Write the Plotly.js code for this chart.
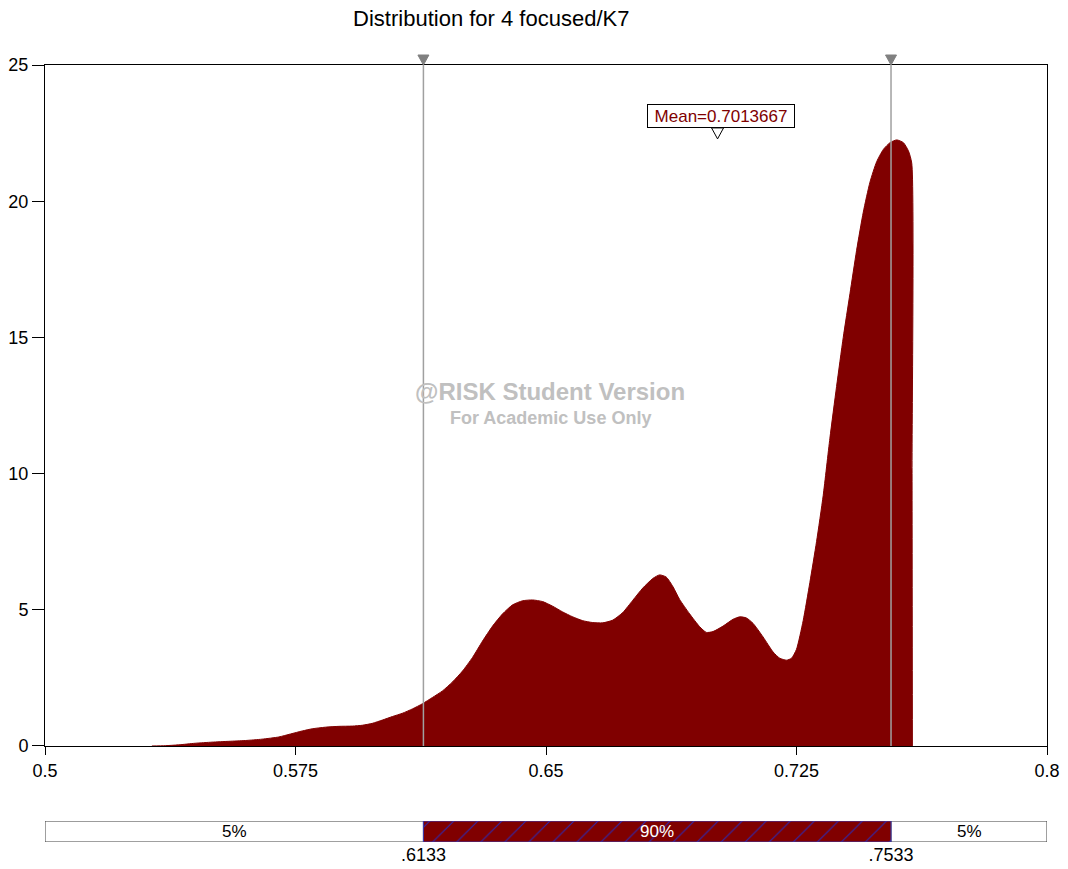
<!DOCTYPE html>
<html>
<head>
<meta charset="utf-8">
<script src="https://cdn.plot.ly/plotly-3.0.1.min.js"></script>
<style>html,body{margin:0;padding:0;background:#fff;}#chart{width:1068px;height:869px;}</style>
</head>
<body>
<div id="chart"></div>
<script>
// ---- data ----
const chartTitle = "Distribution for 4 focused/K7";
const densityX = [0.532,0.536,0.540,0.545,0.550,0.555,0.560,0.565,0.570,0.5735,0.577,0.580,0.584,0.588,0.592,0.595,0.598,0.601,0.604,0.607,0.610,0.613,0.616,0.619,0.622,0.625,0.628,0.631,0.634,0.637,0.640,0.643,0.646,0.649,0.652,0.655,0.658,0.661,0.664,0.667,0.670,0.673,0.676,0.679,0.682,0.684,0.686,0.688,0.690,0.693,0.696,0.698,0.700,0.703,0.706,0.708,0.710,0.712,0.715,0.718,0.720,0.722,0.7235,0.725,0.727,0.729,0.731,0.733,0.735,0.737,0.739,0.741,0.743,0.745,0.747,0.749,0.751,0.753,0.755,0.757,0.7585,0.7595,0.7596,0.7597];
const densityY = [0,0.01,0.04,0.10,0.14,0.17,0.20,0.25,0.33,0.44,0.55,0.63,0.69,0.72,0.73,0.76,0.83,0.95,1.08,1.20,1.36,1.55,1.78,2.02,2.35,2.75,3.25,3.85,4.40,4.85,5.18,5.33,5.36,5.30,5.13,4.92,4.74,4.60,4.53,4.52,4.62,4.90,5.35,5.80,6.15,6.28,6.20,5.85,5.38,4.85,4.38,4.17,4.20,4.40,4.65,4.74,4.70,4.50,4.00,3.45,3.22,3.15,3.22,3.55,4.6,6.0,7.5,9.2,11.3,13.2,15.0,16.6,18.2,19.6,20.7,21.45,21.9,22.15,22.25,22.15,21.85,21.4,10,0];
const xRange = [0.5, 0.8];
const xTicks = [0.5, 0.575, 0.65, 0.725, 0.8];
const xTickText = ["0.5","0.575","0.65","0.725","0.8"];
const yTicks = [0, 5, 10, 15, 20, 25];
const yMax = 25;
const leftPct = 0.6133;
const rightPct = 0.7533;
const pctTickText = [".6133", ".7533"];
const bandLabels = ["5%", "90%", "5%"];
const meanValue = 0.7013667;
const meanLabel = "Mean=0.7013667";
const meanLabelY = 22.69;
const watermark1 = "@RISK Student Version";
const watermark2 = "For Academic Use Only";

// ---- derived ----
const bandStarts = [xRange[0], leftPct, rightPct];
const bandEnds = [leftPct, rightPct, xRange[1]];
const bandWidths = bandStarts.map((s, i) => bandEnds[i] - s);
const bandCenters = bandStarts.map((s, i) => (s + bandEnds[i]) / 2);

const DARK = "#800000";
const FONT = "Liberation Sans, Arial, sans-serif";

const traces = [
  {
    type: "scatter", mode: "lines", x: densityX, y: densityY,
    fill: "tozeroy", fillcolor: DARK,
    line: {color: DARK, width: 1, shape: "spline", smoothing: 0.6}, hoverinfo: "skip", showlegend: false,
    xaxis: "x", yaxis: "y"
  },
  {
    type: "bar", orientation: "h", y: [0, 0], x: [bandWidths[0], bandWidths[2]],
    base: [bandStarts[0], bandStarts[2]],
    width: 1, xaxis: "x2", yaxis: "y2", showlegend: false, hoverinfo: "skip",
    marker: {color: "#ffffff", line: {color: "#404040", width: 1}}
  },
  {
    type: "bar", orientation: "h", y: [0], x: [bandWidths[1]], base: [bandStarts[1]],
    width: 1, xaxis: "x2", yaxis: "y2", showlegend: false, hoverinfo: "skip",
    marker: {color: DARK, line: {color: "#3a3ab0", width: 1},
             pattern: {shape: "/", fillmode: "overlay", fgcolor: "#2a2ab8", fgopacity: 1,
                       size: 17, solidity: 0.06}}
  }
];

const shapes = [];
[leftPct, rightPct].forEach(v => {
  shapes.push({type: "line", xref: "x", yref: "y", x0: v, x1: v, y0: 0, y1: yMax,
    line: {color: "#a0a0a0", width: 1.5}, layer: "above"});
  shapes.push({type: "path", xref: "x", yref: "paper", xsizemode: "pixel", ysizemode: "pixel",
    xanchor: v, yanchor: 1, path: "M-5.5,10 L5.5,10 L0,0 Z",
    fillcolor: "#808080", line: {color: "#808080", width: 1}, layer: "above"});
});
shapes.push({type: "path", xref: "x", yref: "y", xsizemode: "pixel", ysizemode: "pixel",
  xanchor: meanValue, yanchor: meanLabelY, path: "M-6,0 L6,0 L0,-11 Z",
  fillcolor: "#ffffff", line: {color: "#000000", width: 1}, layer: "above"});

const annotations = [
  {xref: "x", yref: "y", x: meanValue, y: meanLabelY, xanchor: "center", yanchor: "bottom",
   xshift: 3, text: meanLabel, showarrow: false, width: 146, height: 22,
   font: {family: FONT, size: 17, color: DARK}, bgcolor: "#ffffff",
   bordercolor: "#000000", borderwidth: 1, borderpad: 0},
  {xref: "paper", yref: "paper", x: 0.504, y: 0.5804, xanchor: "center", yanchor: "middle",
   text: "<b>" + watermark1 + "</b>", showarrow: false,
   font: {family: FONT, size: 24, color: "#c0c0c0"}},
  {xref: "paper", yref: "paper", x: 0.504, y: 0.5457, xanchor: "center", yanchor: "middle",
   text: "<b>" + watermark2 + "</b>", showarrow: false,
   font: {family: FONT, size: 18, color: "#c0c0c0"}}
];
bandLabels.forEach((t, i) => {
  annotations.push({xref: "x2", yref: "y2", x: bandCenters[i], y: 0, text: t, showarrow: false,
    xanchor: "center", yanchor: "middle",
    font: {family: FONT, size: 17, color: i === 1 ? "#ffffff" : "#000000"}});
});

const layout = {
  width: 1068, height: 869,
  margin: {l: 45, r: 21, t: 65, b: 27, pad: 0},
  paper_bgcolor: "#ffffff", plot_bgcolor: "#ffffff",
  font: {family: FONT, color: "#000000", size: 18},
  title: {text: chartTitle, x: 0.46, xanchor: "center", y: 0.979, yanchor: "middle",
          font: {family: FONT, size: 22, color: "#000000"}},
  xaxis: {domain: [0, 1], range: xRange, tickvals: xTicks, ticktext: xTickText,
          ticks: "outside", ticklen: 8, tickcolor: "#000", showgrid: false, zeroline: false,
          showline: true, mirror: true, linecolor: "#000", linewidth: 1, anchor: "y",
          tickfont: {size: 18}, fixedrange: true},
  yaxis: {domain: [0.1236, 1], range: [0, yMax], tickvals: yTicks,
          ticks: "outside", ticklen: 12, tickcolor: "#000", showgrid: false, zeroline: false,
          showline: true, mirror: true, linecolor: "#000", linewidth: 1, anchor: "x",
          tickfont: {size: 18}, fixedrange: true},
  xaxis2: {domain: [0, 1], range: xRange, anchor: "y2", tickvals: [leftPct, rightPct],
           ticktext: pctTickText, ticks: "", showgrid: false, zeroline: false, showline: false,
           tickfont: {size: 18}, fixedrange: true},
  yaxis2: {domain: [0, 0.027], range: [-0.5, 0.5], anchor: "x2", showticklabels: false,
           ticks: "", showgrid: false, zeroline: false, showline: false, fixedrange: true},
  shapes: shapes,
  annotations: annotations,
  barmode: "overlay",
  bargap: 0
};

Plotly.newPlot("chart", traces, layout, {displayModeBar: false, staticPlot: true});
</script>
</body>
</html>
